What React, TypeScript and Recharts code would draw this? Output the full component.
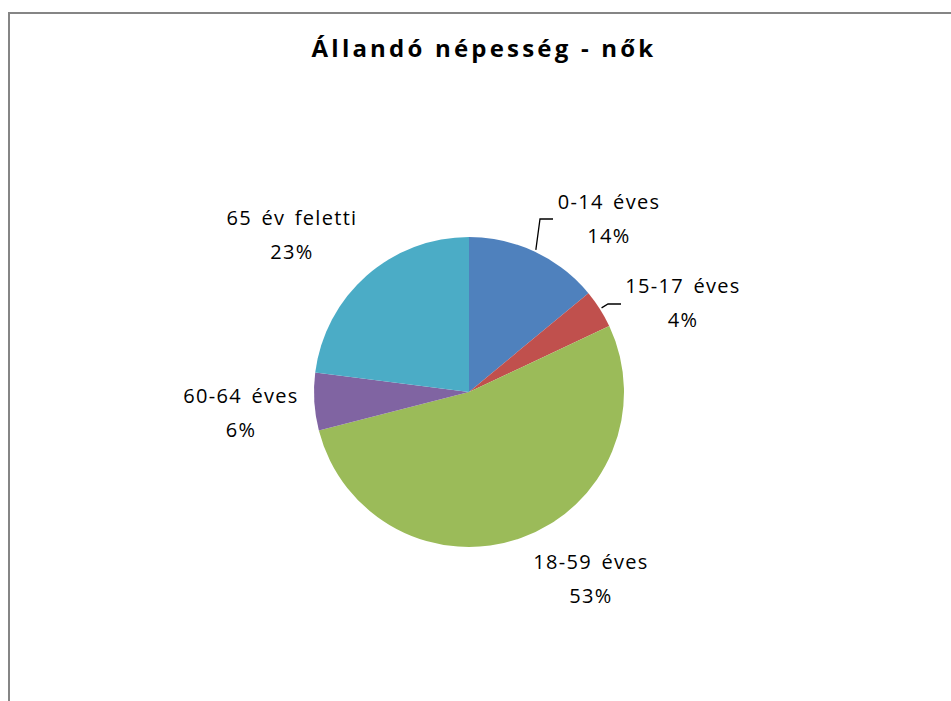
import { PieChart, Pie, Cell } from "recharts";

const categories = ["0-14 éves", "15-17 éves", "18-59 éves", "60-64 éves", "65 év feletti"];
const shares = [14, 4, 53, 6, 23];
const colors = ["#4F81BD", "#C0504D", "#9BBB59", "#8064A2", "#4BACC6"];

// label placement relative to pie centre (Excel "best fit" look)
const labelPlacement = [
  { dx: 140, dy: -183, lead: [84, -173] },
  { dx: 214, dy: -99, lead: [152, -88] },
  { dx: 122, dy: 177, lead: null },
  { dx: -228, dy: 11, lead: null },
  { dx: -177, dy: -167, lead: null },
];

const data = categories.map((name, i) => ({ name, value: shares[i] }));

const RAD = Math.PI / 180;

const renderLabel = (props: any) => {
  const { cx, cy, midAngle, outerRadius, percent, index, name } = props;
  const p = labelPlacement[index];
  const x = cx + p.dx;
  const y = cy + p.dy;
  let line = null;
  if (p.lead) {
    const sx = cx + (outerRadius + 2) * Math.cos(-midAngle * RAD);
    const sy = cy + (outerRadius + 2) * Math.sin(-midAngle * RAD);
    const ex = cx + p.lead[0];
    const ey = cy + p.lead[1];
    line = (
      <polyline
        points={`${sx},${sy} ${ex - 13},${ey} ${ex},${ey}`}
        fill="none"
        stroke="#000"
        strokeWidth={1.3}
      />
    );
  }
  return (
    <g>
      {line}
      <text
        x={x}
        y={y}
        textAnchor="middle"
        fill="#000"
        style={{ fontFamily: "'Open Sans', sans-serif", fontSize: 20, letterSpacing: 1.3, wordSpacing: 3 }}
      >
        <tspan x={x} dy={0}>{name}</tspan>
        <tspan x={x} dy={34}>{Math.round(percent * 100)}%</tspan>
      </text>
    </g>
  );
};

export default function App() {
  return (
    <div
      style={{
        position: "fixed",
        left: 8,
        top: 12,
        width: 950,
        height: 700,
        borderTop: "2px solid #858585",
        borderLeft: "2px solid #858585",
        background: "#fff",
      }}
    >
      <div
        style={{
          position: "absolute",
          top: 19,
          left: 0,
          width: 948,
          textAlign: "center",
          fontFamily: "'Open Sans', sans-serif",
          fontWeight: 700,
          fontSize: 24,
          lineHeight: "30px",
          letterSpacing: 3.2,
          color: "#000",
        }}
      >
        Állandó népesség - nők
      </div>
      <PieChart width={940} height={689}>
        <Pie
          data={data}
          dataKey="value"
          nameKey="name"
          cx={454}
          cy={373}
          outerRadius={155}
          startAngle={90}
          endAngle={-270}
          stroke="none"
          label={renderLabel}
          labelLine={false}
          isAnimationActive={false}
        >
          {data.map((d, i) => (
            <Cell key={d.name} fill={colors[i]} />
          ))}
        </Pie>
      </PieChart>
    </div>
  );
}
